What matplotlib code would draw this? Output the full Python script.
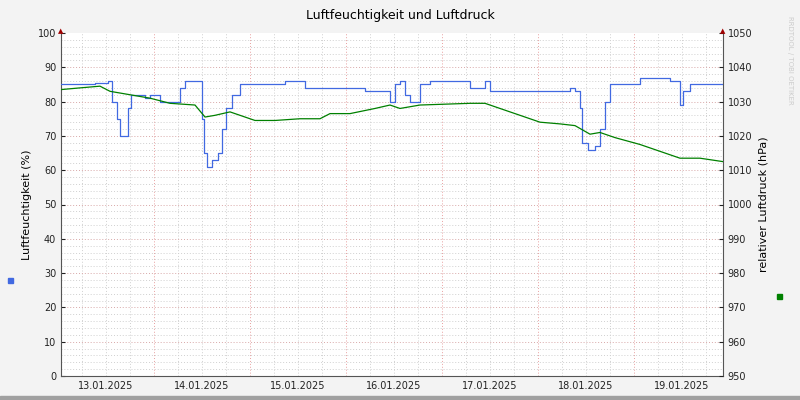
import matplotlib
matplotlib.use("Agg")
import matplotlib.pyplot as plt
import numpy as np

# hours since 13.01.2025 12:00
hum_t = [-11.25,-2.75,0.5,1.5,2.75,3.5,4.75,5.5,6.25,8.5,9.75,11,13.5,15.5,18.5,19.75,23.5,24,24.5,25.25,26.5,28,29,30,31.5,33.5,38.5,44.75,48.5,49.75,62.25,64.75,68.5,71,72.25,73.5,74.75,76,78.5,81,88.5,91,93.5,94.75,96,103.5,113.5,116,117.25,118.5,119,120.5,122.25,123.5,124.75,126,131,133.5,138.5,141,142.25,143.5,144.25,146,151,154.25]
hum_v = [85,85.5,86,80,75,70,70,78,82,82,81,82,80,80,84,86,86,75,65,61,63,65,72,78,82,85,85,86,86,84,84,83,83,80,85,86,82,80,85,86,86,84,84,86,83,83,83,84,83,78,68,66,67,72,80,85,85,87,87,86,86,79,83,85,85,85]
pres_t = [-11.25,-6.5,-1.5,1,6,11,16,22.25,24.75,27.25,31,33.5,37.25,42.25,48.5,53.5,56,61,67.25,71,73.5,78.5,91,94.75,98.5,103.5,108.5,113.5,117.25,121,123.5,127.25,133.5,139.75,143.5,148.5,154.25]
pres_v = [1033.5,1034,1034.5,1033,1032,1031,1029.5,1029,1025.5,1026,1027,1026,1024.5,1024.5,1025,1025,1026.5,1026.5,1028,1029,1028,1029,1029.5,1029.5,1028,1026,1024,1023.5,1023,1020.5,1021,1019.5,1017.5,1015,1013.5,1013.5,1012.5]
day_labels = ["13.01.2025","14.01.2025","15.01.2025","16.01.2025","17.01.2025","18.01.2025","19.01.2025"]

fig = plt.figure(figsize=(8,4), dpi=100, facecolor="#f3f3f3")
ax = fig.add_axes([61/800, 24/400, 662/800, 343/400])
ax.set_facecolor("white")
ax.set_xlim(-11.25, 154.25)
ax.set_ylim(0, 100)
# grid lines
for h in np.arange(-6, 155, 6):
    if h % 24 == 12:
        ax.axvline(h, color="#e8a0a0", ls=(0, (1, 2)), lw=0.7, zorder=1)
    else:
        ax.axvline(h, color="#d0d0d0", ls=(0, (1, 2)), lw=0.7, zorder=1)
for v in np.arange(2, 100, 2):
    if v % 10 == 0:
        ax.axhline(v, color="#d8a8a8", ls=(0, (1, 2)), lw=0.7, zorder=1)
    else:
        ax.axhline(v, color="#d0d0d0", ls=(0, (1, 2)), lw=0.7, zorder=1)
ax.step(hum_t, hum_v, where="post", color="#4169e1", lw=0.9, zorder=3)
ax.set_yticks(np.arange(0, 101, 10))
ax.set_xticks([24*i for i in range(7)])
ax.set_xticklabels(day_labels)
ax.tick_params(axis="x", length=0, labelsize=7, colors="#222222")
ax.tick_params(axis="y", labelsize=7, length=3, direction="in", colors="#222222")
ax.set_ylabel("Luftfeuchtigkeit (%)", fontsize=8)
for s in ax.spines.values():
    s.set_visible(False)
for k in ("left", "bottom", "right"):
    ax.spines[k].set_visible(True)
    ax.spines[k].set_color("#555555")

ax2 = ax.twinx()
ax2.plot(pres_t, pres_v, color="#008000", lw=0.9, zorder=3)
ax2.set_ylim(950, 1050)
ax2.set_yticks(np.arange(950, 1051, 10))
ax2.tick_params(labelsize=7, length=3, direction="in", colors="#222222")
ax2.set_ylabel("relativer Luftdruck (hPa)", fontsize=8)
for s in ax2.spines.values():
    s.set_visible(False)

fig.text(0.5, 0.962, "Luftfeuchtigkeit und Luftdruck", ha="center", va="center", fontsize=9)
fig.text(0.987, 0.85, "RRDTOOL / TOBI OETIKER", rotation=270, ha="center", va="center", fontsize=5, color="#cccccc")
fig.patches.append(plt.Rectangle((8/800, 117/400), 5/800, 5/400, transform=fig.transFigure, color="#4169e1"))
fig.patches.append(plt.Rectangle((777/800, 101/400), 5/800, 5/400, transform=fig.transFigure, color="#008000"))
fig.text(61/800, 369/400, "▲", color="#a00000", fontsize=5, ha="center", va="center")
fig.text(723/800, 369/400, "▲", color="#a00000", fontsize=5, ha="center", va="center")
fig.patches.append(plt.Rectangle((0, 0), 1, 4/400, transform=fig.transFigure, color="#a0a0a0"))
fig.savefig("out.png", dpi=100, facecolor=fig.get_facecolor())
